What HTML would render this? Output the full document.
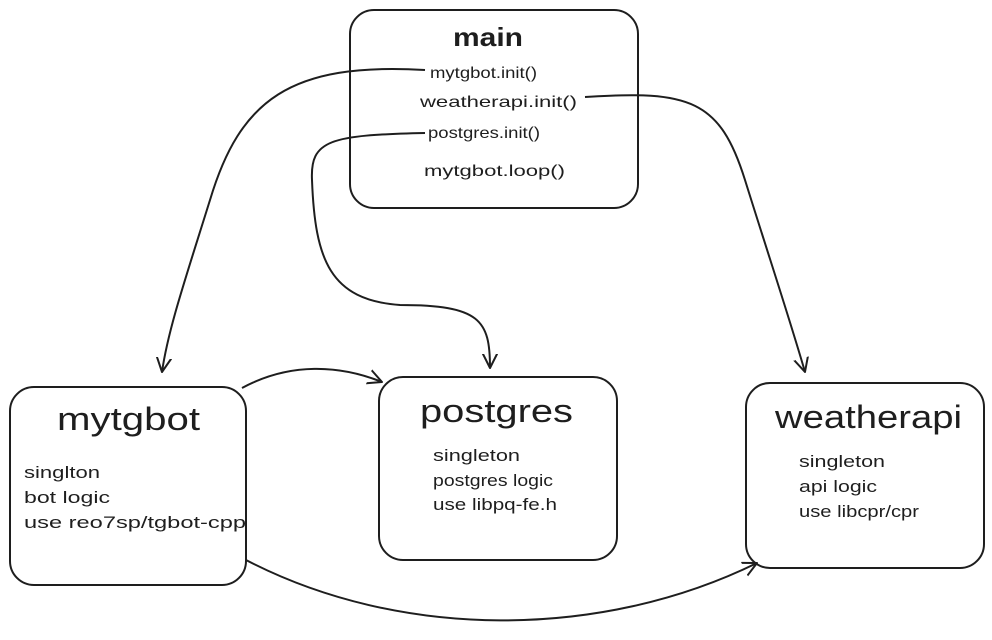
<!DOCTYPE html>
<html><head><meta charset="utf-8"><style>
body{margin:0;background:#fff;}
svg text{font-family:"Liberation Sans",sans-serif;fill:#1e1e1e;}
</style></head><body>
<svg width="992" height="635" viewBox="0 0 992 635" xmlns="http://www.w3.org/2000/svg">
<defs>
<marker id="a" markerWidth="20" markerHeight="20" refX="14" refY="8" orient="auto" markerUnits="userSpaceOnUse">
<polyline points="0,1 14,8 0,15" fill="none" stroke="#1e1e1e" stroke-width="2" stroke-linecap="round" stroke-linejoin="round"/>
</marker>
</defs>
<g fill="none" stroke="#1e1e1e" stroke-width="2">
<rect x="350" y="10" width="288" height="198" rx="24"/>
<rect x="10" y="387" width="236" height="198" rx="24"/>
<rect x="379" y="377" width="238" height="183" rx="24"/>
<rect x="746" y="383" width="238" height="185" rx="24"/>
<path d="M425,70 C290,62 240,100 210,200 C185,280 168,330 162,372" marker-end="url(#a)"/>
<path d="M585,97 C690,90 720,100 745,180 C770,260 790,320 805,372" marker-end="url(#a)"/>
<path d="M425,133 C330,135 310,140 312,180 C315,260 330,300 400,305 C480,305 490,320 490,368" marker-end="url(#a)"/>
<path d="M242,388 C290,362 340,365 382,382" marker-end="url(#a)"/>
<path d="M246,560 C400,640 600,640 757,563" marker-end="url(#a)"/>
</g>
<g lengthAdjust="spacingAndGlyphs">
<text x="453" y="46" font-size="26" font-weight="bold" textLength="70" lengthAdjust="spacingAndGlyphs">main</text>
<text x="430" y="78" font-size="16" textLength="107" lengthAdjust="spacingAndGlyphs">mytgbot.init()</text>
<text x="420" y="107" font-size="16" textLength="157" lengthAdjust="spacingAndGlyphs">weatherapi.init()</text>
<text x="428" y="138" font-size="16" textLength="112" lengthAdjust="spacingAndGlyphs">postgres.init()</text>
<text x="424" y="176" font-size="16" textLength="141" lengthAdjust="spacingAndGlyphs">mytgbot.loop()</text>
<text x="57" y="430" font-size="32" textLength="143" lengthAdjust="spacingAndGlyphs">mytgbot</text>
<text x="420" y="422" font-size="32" textLength="153" lengthAdjust="spacingAndGlyphs">postgres</text>
<text x="775" y="428" font-size="32" textLength="187" lengthAdjust="spacingAndGlyphs">weatherapi</text>
<text x="24" y="478" font-size="17" textLength="76" lengthAdjust="spacingAndGlyphs">singlton</text>
<text x="24" y="503" font-size="17" textLength="86" lengthAdjust="spacingAndGlyphs">bot logic</text>
<text x="24" y="528" font-size="17" textLength="222" lengthAdjust="spacingAndGlyphs">use reo7sp/tgbot-cpp</text>
<text x="433" y="461" font-size="17" textLength="87" lengthAdjust="spacingAndGlyphs">singleton</text>
<text x="433" y="486" font-size="17" textLength="120" lengthAdjust="spacingAndGlyphs">postgres logic</text>
<text x="433" y="510" font-size="17" textLength="124" lengthAdjust="spacingAndGlyphs">use libpq-fe.h</text>
<text x="799" y="467" font-size="17" textLength="86" lengthAdjust="spacingAndGlyphs">singleton</text>
<text x="799" y="492" font-size="17" textLength="78" lengthAdjust="spacingAndGlyphs">api logic</text>
<text x="799" y="517" font-size="17" textLength="120" lengthAdjust="spacingAndGlyphs">use libcpr/cpr</text>
</g>
</svg>
</body></html>
